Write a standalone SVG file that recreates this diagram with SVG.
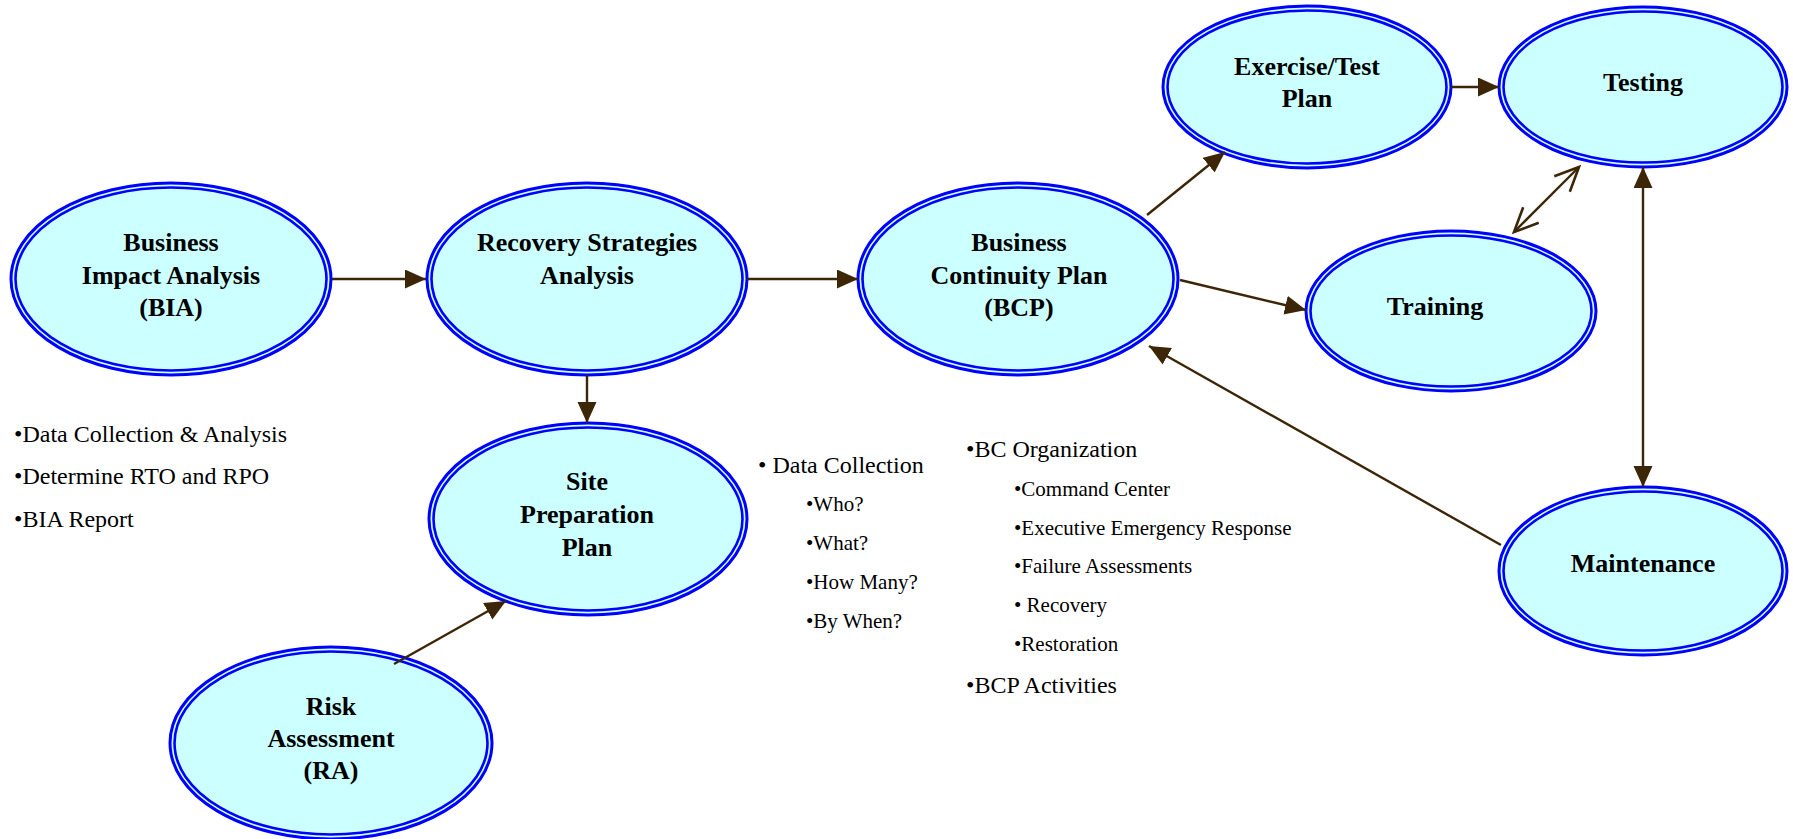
<svg xmlns="http://www.w3.org/2000/svg" width="1793" height="839" viewBox="0 0 1793 839">
<style>
.o{fill:#ccffff;stroke:#0000ff;stroke-width:3}
.i{fill:none;stroke:#0000ff;stroke-width:2.6}
.t{font-family:"Liberation Serif","Times New Roman",serif;font-weight:bold;font-size:26px;fill:#000;text-anchor:middle}
.b{font-family:"Liberation Serif","Times New Roman",serif;font-size:24px;fill:#000}
.s{font-family:"Liberation Serif","Times New Roman",serif;font-size:21px;fill:#000}
.c{stroke:#3d2608;stroke-width:2.4;fill:none}
</style>
<defs>
<marker id="ah" markerUnits="userSpaceOnUse" markerWidth="22" markerHeight="20" refX="21" refY="9.5" orient="auto-start-reverse" viewBox="0 0 22 20">
<path d="M0,0 L21,9.5 L0,19 z" fill="#3d2608"/>
</marker>
<marker id="oa" markerUnits="userSpaceOnUse" markerWidth="30" markerHeight="30" refX="26" refY="13" orient="auto-start-reverse" viewBox="0 0 30 26">
<path d="M2,2 L26,13 L2,24" fill="none" stroke="#3d2608" stroke-width="2.6"/>
</marker>
</defs>
<rect width="1793" height="839" fill="#fff"/>
<g id="bia">
<ellipse class="o" cx="171" cy="279" rx="160" ry="96"/>
<ellipse class="i" cx="171" cy="279" rx="155.5" ry="91.5"/>
<text class="t" x="171" y="251">Business</text>
<text class="t" x="171" y="284">Impact Analysis</text>
<text class="t" x="171" y="316">(BIA)</text>
</g>
<g id="rsa">
<ellipse class="o" cx="587" cy="279" rx="160" ry="96"/>
<ellipse class="i" cx="587" cy="279" rx="155.5" ry="91.5"/>
<text class="t" x="587" y="251">Recovery Strategies</text>
<text class="t" x="587" y="284">Analysis</text>
</g>
<g id="bcp">
<ellipse class="o" cx="1018" cy="279" rx="160" ry="96"/>
<ellipse class="i" cx="1018" cy="279" rx="155.5" ry="91.5"/>
<text class="t" x="1019" y="251">Business</text>
<text class="t" x="1019" y="284">Continuity Plan</text>
<text class="t" x="1019" y="316">(BCP)</text>
</g>
<g id="site">
<ellipse class="o" cx="588" cy="519" rx="159" ry="96"/>
<ellipse class="i" cx="588" cy="519" rx="154.5" ry="91.5"/>
<text class="t" x="587" y="490">Site</text>
<text class="t" x="587" y="523">Preparation</text>
<text class="t" x="587" y="556">Plan</text>
</g>
<g id="ra">
<ellipse class="o" cx="331" cy="743" rx="161" ry="96"/>
<ellipse class="i" cx="331" cy="743" rx="156.5" ry="91.5"/>
<text class="t" x="331" y="715">Risk</text>
<text class="t" x="331" y="747">Assessment</text>
<text class="t" x="331" y="779">(RA)</text>
</g>
<g id="exercise">
<ellipse class="o" cx="1307" cy="87" rx="144" ry="81"/>
<ellipse class="i" cx="1307" cy="87" rx="139.5" ry="76.5"/>
<text class="t" x="1307" y="75">Exercise/Test</text>
<text class="t" x="1307" y="107">Plan</text>
</g>
<g id="testing">
<ellipse class="o" cx="1643" cy="87" rx="144" ry="80"/>
<ellipse class="i" cx="1643" cy="87" rx="139.5" ry="75.5"/>
<text class="t" x="1643" y="91">Testing</text>
</g>
<g id="training">
<ellipse class="o" cx="1451" cy="311" rx="145" ry="80"/>
<ellipse class="i" cx="1451" cy="311" rx="140.5" ry="75.5"/>
<text class="t" x="1435" y="315">Training</text>
</g>
<g id="maintenance">
<ellipse class="o" cx="1643" cy="571" rx="144" ry="84"/>
<ellipse class="i" cx="1643" cy="571" rx="139.5" ry="79.5"/>
<text class="t" x="1643" y="572">Maintenance</text>
</g>
<g id="connectors">
<line class="c" x1="332" y1="279" x2="426" y2="279" marker-end="url(#ah)"/>
<line class="c" x1="747" y1="279" x2="858" y2="279" marker-end="url(#ah)"/>
<line class="c" x1="587" y1="375" x2="587" y2="423" marker-end="url(#ah)"/>
<line class="c" x1="394" y1="664" x2="506" y2="601" marker-end="url(#ah)" stroke-width="2"/>
<line class="c" x1="1147" y1="215" x2="1225" y2="152" marker-end="url(#ah)" stroke-width="2"/>
<line class="c" x1="1451" y1="87" x2="1499" y2="87" marker-end="url(#ah)"/>
<line class="c" x1="1180" y1="280" x2="1306" y2="310" marker-end="url(#ah)" stroke-width="2"/>
<line class="c" x1="1514" y1="232" x2="1579" y2="167" marker-start="url(#oa)" marker-end="url(#oa)" stroke-width="2.6"/>
<line class="c" x1="1643" y1="167" x2="1643" y2="487" marker-start="url(#ah)" marker-end="url(#ah)"/>
<line class="c" x1="1501" y1="545" x2="1149" y2="346" marker-end="url(#ah)" stroke-width="2"/>
</g>
<g id="bia-notes">
<text class="b" x="14" y="442">•Data Collection &amp; Analysis</text>
<text class="b" x="14" y="484">•Determine RTO and RPO</text>
<text class="b" x="14" y="527">•BIA Report</text>
</g>
<g id="data-collection-notes">
<text class="b" x="758" y="473">• Data Collection</text>
<text class="s" x="806" y="511">•Who?</text>
<text class="s" x="806" y="550">•What?</text>
<text class="s" x="806" y="589">•How Many?</text>
<text class="s" x="806" y="628">•By When?</text>
</g>
<g id="bc-notes">
<text class="b" x="966" y="457">•BC Organization</text>
<text class="s" x="1014" y="496">•Command Center</text>
<text class="s" x="1014" y="535">•Executive Emergency Response</text>
<text class="s" x="1014" y="573">•Failure Assessments</text>
<text class="s" x="1014" y="612">• Recovery</text>
<text class="s" x="1014" y="651">•Restoration</text>
<text class="b" x="966" y="693">•BCP Activities</text>
</g>
</svg>
